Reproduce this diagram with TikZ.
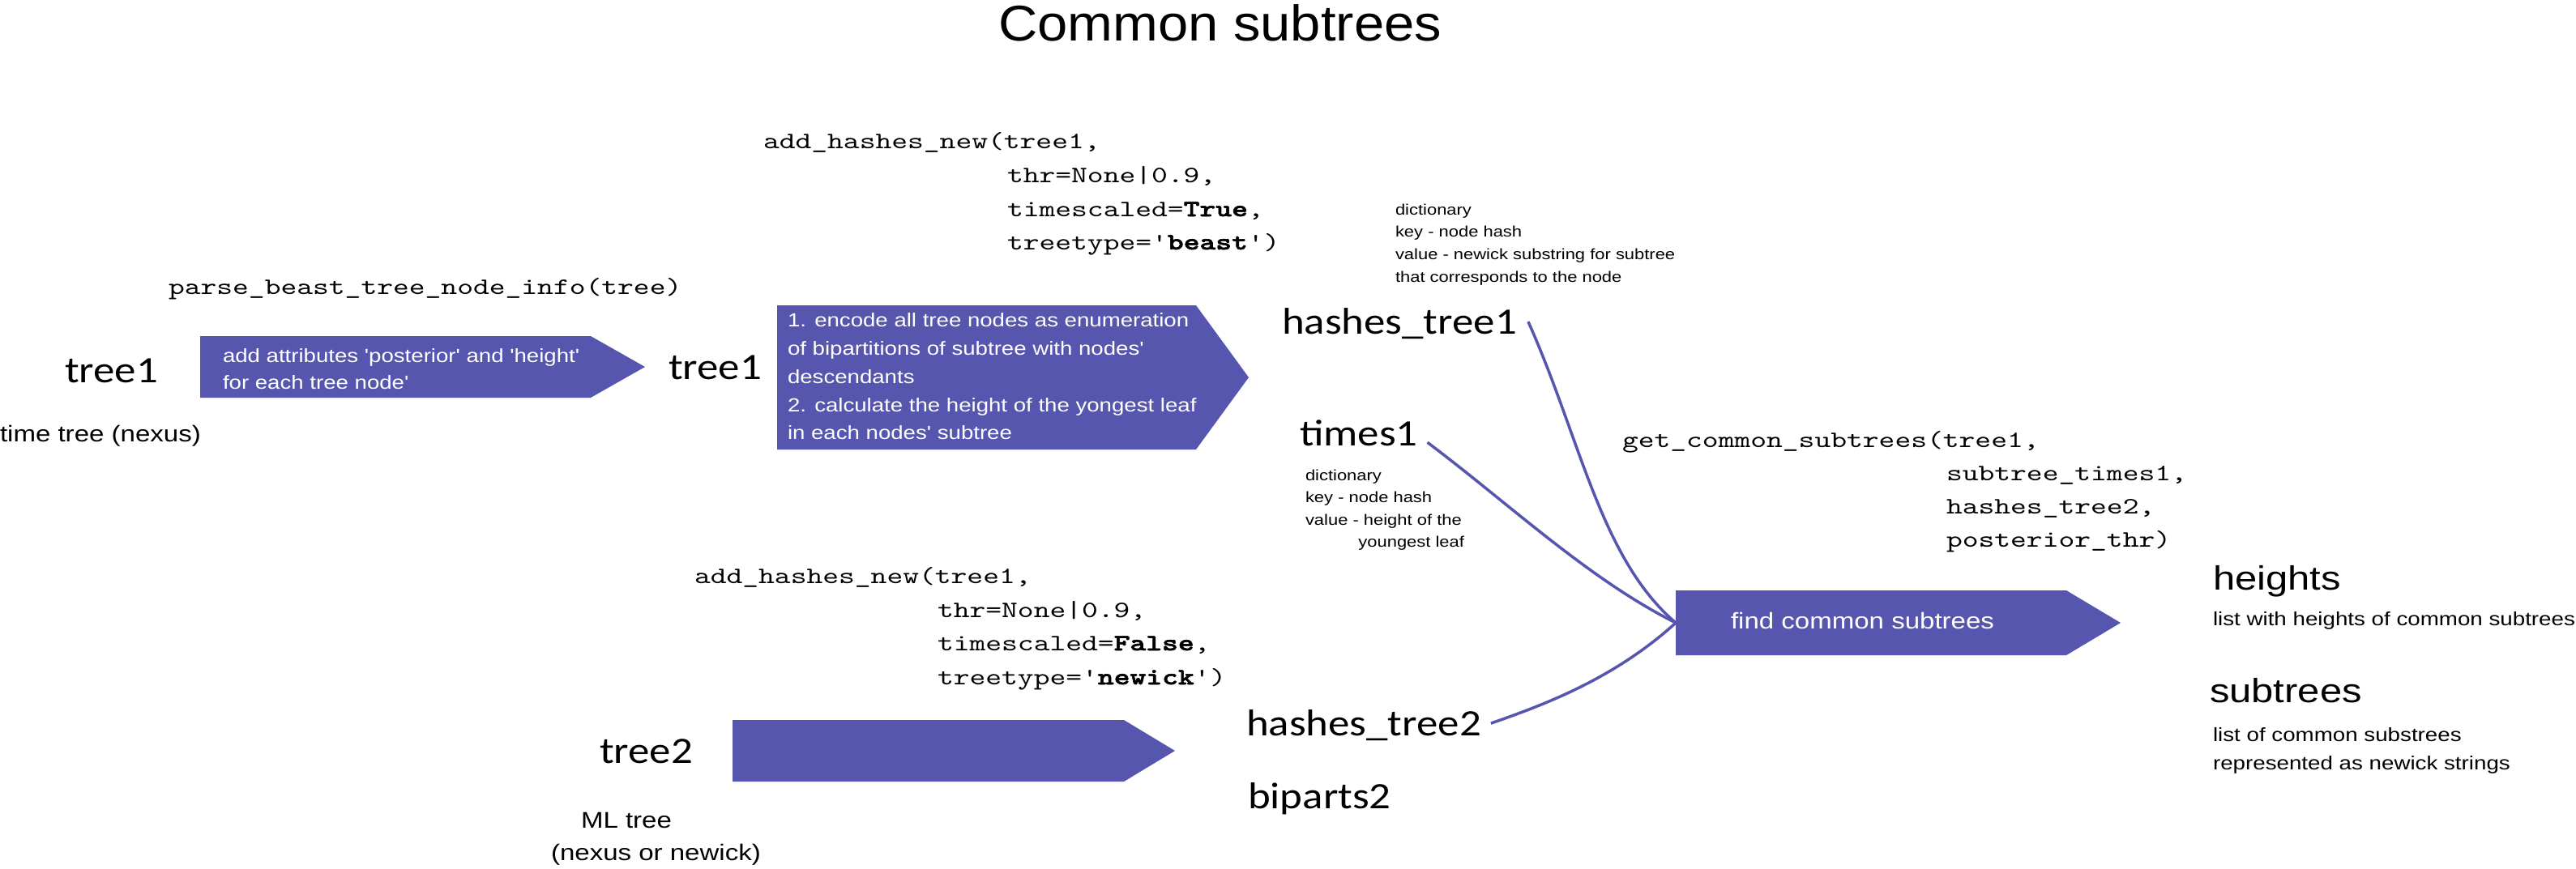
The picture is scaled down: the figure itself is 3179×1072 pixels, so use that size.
\documentclass[tikz,border=0pt]{standalone}
\usepackage{fontspec}
\newfontfamily\ttlfont[FakeStretch=1.08]{Liberation Sans}
\newfontfamily\arfont[FakeStretch=1.18]{Liberation Sans}
\newfontfamily\labfont[FakeStretch=1.15]{Carlito}
\newfontfamily\codefont{lmmono10-regular}[Extension=.otf, BoldFont=lmmonolt10-bold, BoldFeatures={FakeBold=2}, FakeStretch=1.3]
\definecolor{boxblue}{RGB}{87,86,175}
\tikzset{
  txt/.style={inner sep=0pt, outer sep=0pt, anchor=base west},
  ttl/.style={txt, font=\ttlfont\fontsize{62}{70}\selectfont},
  lab/.style={txt, font=\labfont\fontsize{46}{55}\selectfont},
  code/.style={txt, font=\codefont\fontsize{29}{34}\selectfont},
  small/.style={txt, font=\arfont\fontsize{18.6}{22}\selectfont},
  desc/.style={txt, font=\arfont\fontsize{28}{34}\selectfont},
  intxt/.style={txt, text=white, font=\arfont\fontsize{23.4}{30}\selectfont},
  restxt/.style={txt, font=\arfont\fontsize{41.5}{50}\selectfont},
  listtxt/.style={txt, font=\arfont\fontsize{23.5}{30}\selectfont},
  arrowbox/.style={fill=boxblue},
  conn/.style={draw=boxblue, line width=3.5pt}
}
\begin{document}
\begin{tikzpicture}[x=1pt,y=-1pt]
\useasboundingbox (0,0) rectangle (3179,1072);

% title
\node[ttl] (title) at (1232,50) {Common subtrees};

% first step
\node[code] (parse) at (208,363) {parse\_beast\_tree\_node\_info(tree)};
\node[lab] (treeA) at (80,472) {tree1};
\node[desc] (timetree) at (0,545) {time tree (nexus)};
\fill[arrowbox] (247,415) -- (729,415) -- (796,453) -- (729,491) -- (247,491) -- cycle;
\node[intxt] (a1l1) at (275,447) {add attributes 'posterior' and 'height'};
\node[intxt] (a1l2) at (275,480) {for each tree node'};
\node[lab] (treeB) at (825,468) {tree1};

% second step
\node[code] (ah1) at (942,183) {add\_hashes\_new(tree1,};
\node[code] (ah2) at (1243,225) {thr=None|0.9,};
\node[code] (ah3) at (1243,267) {timescaled=\textbf{True},};
\node[code] (ah4) at (1243,308) {treetype='\textbf{beast}')};
\fill[arrowbox] (959,377) -- (1476,377) -- (1541,466) -- (1476,555) -- (959,555) -- cycle;
\node[intxt] (b1) at (972,403) {1. encode all tree nodes as enumeration};
\node[intxt] (b2) at (972,438) {of bipartitions of subtree with nodes'};
\node[intxt] (b3) at (972,473) {descendants};
\node[intxt] (b4) at (972,508) {2. calculate the height of the yongest leaf};
\node[intxt] (b5) at (972,542) {in each nodes' subtree};

% outputs of step two
\node[small] (d1) at (1722,265) {dictionary};
\node[small] (d2) at (1722,292) {key - node hash};
\node[small] (d3) at (1722,320) {value - newick substring for subtree};
\node[small] (d4) at (1722,348) {that corresponds to the node};
\node[lab] (ht1) at (1582,412) {hashes\_tree1};
\node[lab] (tm1) at (1604,550) {times1};
\node[small] (e1) at (1611,593) {dictionary};
\node[small] (e2) at (1611,620) {key - node hash};
\node[small] (e3) at (1611,648) {value - height of the};
\node[small, anchor=base east] (e4) at (1807,675) {youngest leaf};

% second tree
\node[code] (bh1) at (857,720) {add\_hashes\_new(tree1,};
\node[code] (bh2) at (1157,762) {thr=None|0.9,};
\node[code] (bh3) at (1157,803) {timescaled=\textbf{False},};
\node[code] (bh4) at (1157,845) {treetype='\textbf{newick}')};
\node[lab] (tree2) at (740,942) {tree2};
\fill[arrowbox] (904,889) -- (1387,889) -- (1450,927) -- (1387,965) -- (904,965) -- cycle;
\node[desc] (ml1) at (717,1022) {ML tree};
\node[desc] (ml2) at (680,1062) {(nexus or newick)};
\node[lab] (ht2) at (1538,908) {hashes\_tree2};
\node[lab] (bp2) at (1540,998) {biparts2};

% common subtrees
\node[code] (gc1) at (2002,552) {get\_common\_subtrees(tree1,};
\node[code] (gc2) at (2402,593) {subtree\_times1,};
\node[code] (gc3) at (2402,634) {hashes\_tree2,};
\node[code] (gc4) at (2402,675) {posterior\_thr)};
\fill[arrowbox] (2068,729) -- (2550,729) -- (2617,769) -- (2550,809) -- (2068,809) -- cycle;
\coordinate (fcs) at (2068,769);
\node[txt, text=white, font=\arfont\fontsize{28}{34}\selectfont] (fcstxt) at (2136,776) {find common subtrees};

\node[restxt] (heights) at (2731,728) {heights};
\node[listtxt] (hl) at (2731,772) {list with heights of common subtrees};
\node[restxt] (subtrees) at (2727,867) {subtrees};
\node[listtxt] (sl1) at (2731,915) {list of common substrees};
\node[listtxt] (sl2) at (2731,950) {represented as newick strings};

% connectors
\draw[conn] ([xshift=14pt,yshift=2pt]ht1.east) .. controls (1950,540) and (1975,690) .. (fcs);
\draw[conn] ([xshift=12pt,yshift=-12pt]tm1.east) .. controls (1860,620) and (1960,715) .. (fcs);
\draw[conn] ([xshift=12pt,yshift=2pt]ht2.east) .. controls (1900,872) and (1990,840) .. (fcs);
\end{tikzpicture}
\end{document}
